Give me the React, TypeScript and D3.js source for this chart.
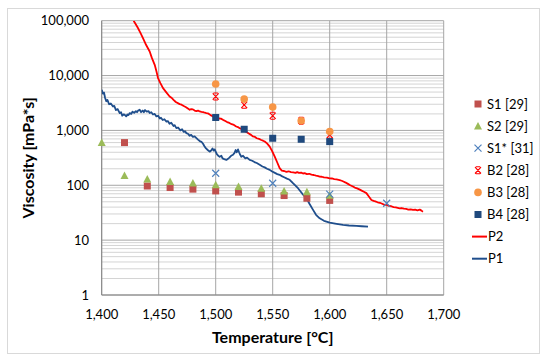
import React from 'react';
import * as d3 from 'd3';

type Pt = [number, number];

// measured points [temperature °C, viscosity mPa*s]
const S1: Pt[] = [[1420, 600], [1440, 97], [1460, 91], [1480, 85], [1500, 79], [1520, 75], [1540, 70], [1560, 65], [1580, 58], [1600, 53]];
const S2: Pt[] = [[1400, 600], [1420, 150], [1440, 130], [1460, 117], [1480, 110], [1500, 102], [1520, 95], [1540, 88], [1560, 79], [1580, 76], [1600, 66]];
const S1star: Pt[] = [[1500, 166], [1550, 109], [1600, 69], [1650, 47]];
const B2: Pt[] = [[1500, 4150], [1525, 2930], [1550, 1850], [1575, 1500], [1600, 830]];
const B3: Pt[] = [[1500, 7000], [1525, 3720], [1550, 2660], [1575, 1500], [1600, 955]];
const B4: Pt[] = [[1500, 1720], [1525, 1050], [1550, 720], [1575, 690], [1600, 625]];

const P2: Pt[] = [
  [1428, 100000], [1430, 85000], [1431.8, 73600], [1434, 60000], [1436.2, 48300], [1439, 36000], [1442.1, 27500],
  [1444, 21000], [1446.5, 15700], [1448, 12000], [1449.4, 9000], [1451.5, 7300], [1453.8, 5900], [1456.5, 5000],
  [1459.6, 4160], [1461.5, 3900], [1463, 3600], [1465, 3300], [1468.4, 3020], [1470, 2950], [1472, 2780],
  [1474, 2650], [1477.2, 2380], [1478.5, 2450], [1480, 2420], [1481.5, 2300], [1483, 2250], [1484.5, 2300],
  [1486, 2215], [1487.5, 2180], [1489, 2150], [1490.5, 2100], [1491.8, 2070], [1493, 2050], [1494, 2000],
  [1495.5, 1900], [1497.6, 1800], [1499, 1820], [1500, 1780], [1501.5, 1700], [1503, 1650], [1504.5, 1640],
  [1506.4, 1560], [1508, 1500], [1510, 1420], [1512, 1370], [1514, 1300], [1516, 1260], [1518, 1180],
  [1519.5, 1150], [1521, 1100], [1523, 1050], [1525, 980], [1527, 940], [1529, 880], [1531, 830],
  [1532.7, 775], [1534.5, 760], [1536, 720], [1538, 700], [1540, 670], [1541.5, 650], [1543, 627],
  [1545, 580], [1547.4, 508], [1549.5, 420], [1551.8, 334], [1554, 260], [1556.1, 205], [1558, 185],
  [1560, 182], [1562, 176], [1564, 180], [1566, 174], [1568, 172], [1570, 168], [1571.5, 174],
  [1573, 168], [1575, 170], [1576.6, 164], [1578, 166], [1580, 160], [1582, 162], [1584, 156],
  [1586, 154], [1588, 150], [1590, 147], [1591.2, 144], [1593, 143], [1595, 139], [1597.5, 138],
  [1600, 134], [1602, 133], [1604, 130], [1606, 128], [1608.8, 124], [1610.5, 121], [1612, 117],
  [1614, 112], [1616, 106], [1618, 100], [1620.4, 95], [1622, 91], [1624, 88], [1626, 84],
  [1628, 80], [1630, 76], [1632.2, 72], [1634.5, 62], [1636.6, 54], [1638.5, 52], [1640, 51],
  [1642, 49], [1644, 48], [1646, 46], [1648.2, 44], [1650, 44], [1652, 42], [1654, 41.5],
  [1656, 40], [1658, 39.5], [1661.4, 38], [1663, 38.5], [1665, 37.5], [1667, 37], [1669, 36],
  [1671, 36.5], [1673.1, 35.6], [1675, 36], [1677, 35], [1679, 36], [1680.5, 34.5], [1681.8, 33],
];
const P1: Pt[] = [
  [1400, 5500], [1401, 4700], [1402, 4900], [1403, 3900], [1404, 3400], [1405, 3600], [1406.5, 3000],
  [1408, 3100], [1409.9, 2730], [1411, 2800], [1412.5, 2350], [1414, 2450], [1415.8, 2070], [1417, 2150],
  [1418, 1850], [1419, 1950], [1420.2, 1930], [1421.5, 1800], [1422.5, 1950], [1423.5, 1900], [1424.6, 2070],
  [1426, 2000], [1427, 2200], [1428.5, 2100], [1430, 2250], [1431, 2150], [1432, 2300], [1433.3, 2380],
  [1434.5, 2150], [1436, 2300], [1437, 2150], [1438, 2350], [1439.5, 2200], [1441, 2250], [1442.1, 2070],
  [1443.5, 2150], [1445, 1950], [1446.5, 2000], [1448, 1800], [1449.5, 1850], [1451, 1650], [1452, 1700],
  [1453.5, 1550], [1455, 1600], [1456.8, 1450], [1458, 1480], [1459.5, 1320], [1461, 1380], [1463, 1200],
  [1464, 1250], [1465.5, 1100], [1467, 1130], [1469, 1000], [1470.5, 1050], [1472, 940], [1473, 970],
  [1474.3, 892], [1476, 860], [1477, 800], [1478.5, 830], [1480, 760], [1481.5, 780], [1483.1, 724],
  [1484.5, 680], [1486, 640], [1487.5, 620], [1488.9, 570], [1490, 520], [1491.5, 470], [1493, 440],
  [1494.7, 410], [1496, 430], [1497.2, 470], [1498.2, 430], [1499.1, 450], [1500, 410], [1501, 370],
  [1502, 350], [1503.5, 330], [1505, 345], [1506, 310], [1507.5, 300], [1509.4, 290], [1510.5, 300],
  [1512, 320], [1513.5, 345], [1515.2, 360], [1516.5, 390], [1517.5, 440], [1518.5, 400], [1519.6, 450],
  [1520.5, 400], [1521.5, 360], [1522.5, 330], [1524, 345], [1526, 310], [1527.5, 320], [1529.8, 290],
  [1532, 280], [1534, 265], [1536, 255], [1538.6, 236], [1541, 220], [1543, 212], [1545, 200],
  [1547.4, 191], [1549.5, 178], [1551.5, 170], [1554, 160], [1556.1, 155], [1558, 147], [1560, 140],
  [1562.5, 132], [1564.9, 126], [1568, 108], [1572.2, 88.5], [1576, 70], [1579.6, 58], [1582.5, 45],
  [1585.4, 35.6], [1588, 29], [1591.2, 25], [1595, 22.5], [1600, 20.9], [1606, 19.8], [1611.7, 18.9],
  [1617, 18.5], [1623.4, 18.2], [1628, 17.9], [1633.6, 17.6],
];

const xTicks = [1400, 1450, 1500, 1550, 1600, 1650, 1700];
const yTicks = [1, 10, 100, 1000, 10000, 100000];

const legendItems = [
  { name: 'S1 [29]', kind: 'square', color: '#C0504D' },
  { name: 'S2 [29]', kind: 'triangle', color: '#9BBB59' },
  { name: 'S1* [31]', kind: 'x', color: '#4F81BD' },
  { name: 'B2 [28]', kind: 'star', color: '#FF0000' },
  { name: 'B3 [28]', kind: 'circle', color: '#F79646' },
  { name: 'B4 [28]', kind: 'square', color: '#1F497D' },
  { name: 'P2', kind: 'line', color: '#FF0000' },
  { name: 'P1', kind: 'line', color: '#1F4E8C' },
];

const FONT = 'Lato, "Open Sans", sans-serif';

const Marker: React.FC<{ kind: string; color: string; cx: number; cy: number }> = ({ kind, color, cx, cy }) => {
  if (kind === 'square') return <rect x={cx - 3.5} y={cy - 3.5} width={7} height={7} fill={color} />;
  if (kind === 'circle') return <circle cx={cx} cy={cy} r={3.8} fill={color} />;
  if (kind === 'triangle') return <path d={`M${cx},${cy - 4}L${cx + 4},${cy + 3.5}L${cx - 4},${cy + 3.5}Z`} fill={color} />;
  if (kind === 'x')
    return <path d={`M${cx - 3.5},${cy - 3.5}L${cx + 3.5},${cy + 3.5}M${cx - 3.5},${cy + 3.5}L${cx + 3.5},${cy - 3.5}`} stroke={color} strokeWidth={1.2} fill="none" />;
  if (kind === 'star')
    return (
      <path
        d={`M${cx - 3},${cy - 3.2}L${cx + 3},${cy + 3.2}M${cx - 3},${cy + 3.2}L${cx + 3},${cy - 3.2}M${cx - 2.2},${cy - 3.5}L${cx + 2.2},${cy - 3.5}M${cx - 2.2},${cy + 3.5}L${cx + 2.2},${cy + 3.5}`}
        stroke={color} strokeWidth={1.1} fill="none" />
    );
  return null;
};

export default function App() {
  const left = 101.7, right = 443.7, top = 20.7, bottom = 295;
  const x = d3.scaleLinear().domain([1400, 1700]).range([left, right]);
  const y = d3.scaleLog().domain([1, 100000]).range([bottom, top]);

  const minor: number[] = [];
  [1, 10, 100, 1000, 10000].forEach(dec => {
    for (let k = 2; k <= 9; k++) minor.push(dec * k);
  });

  const line = d3.line<Pt>().x(d => x(d[0])).y(d => y(d[1]));

  const scatter = [
    { data: S1, kind: 'square', color: '#C0504D' },
    { data: S2, kind: 'triangle', color: '#9BBB59' },
    { data: S1star, kind: 'x', color: '#4F81BD' },
    { data: B2, kind: 'star', color: '#FF0000' },
    { data: B3, kind: 'circle', color: '#F79646' },
    { data: B4, kind: 'square', color: '#1F497D' },
  ];

  return (
    <svg width={550} height={363} style={{ position: 'absolute', left: 0, top: 0, background: '#fff' }} fontFamily={FONT}>
      <rect x={7.5} y={8.5} width={532} height={345} fill="#fff" stroke="#D9D9D9" />
      <defs>
        <clipPath id="plot">
          <rect x={left} y={top} width={right - left} height={bottom - top} />
        </clipPath>
      </defs>
      {minor.map(v => (
        <line key={'m' + v} x1={left} x2={right} y1={y(v)} y2={y(v)} stroke="#D4D4D4" strokeWidth={1} />
      ))}
      {yTicks.map(v => (
        <line key={'y' + v} x1={left} x2={right} y1={y(v)} y2={y(v)} stroke="#A6A6A6" strokeWidth={1} />
      ))}
      {xTicks.map(v => (
        <line key={'x' + v} x1={x(v)} x2={x(v)} y1={top} y2={bottom} stroke="#A6A6A6" strokeWidth={1} />
      ))}
      <line x1={left} x2={left} y1={top} y2={bottom} stroke="#868686" />
      <line x1={left} x2={right} y1={bottom} y2={bottom} stroke="#868686" />

      <g clipPath="url(#plot)">
        <path d={line(P2) || ''} fill="none" stroke="#FF0000" strokeWidth={1.8} strokeLinejoin="round" />
        <path d={line(P1) || ''} fill="none" stroke="#1F4E8C" strokeWidth={1.8} strokeLinejoin="round" />
      </g>
      {scatter.map((s, i) => (
        <g key={i}>
          {s.data.map((d, j) => (
            <Marker key={j} kind={s.kind} color={s.color} cx={x(d[0])} cy={y(d[1])} />
          ))}
        </g>
      ))}

      {yTicks.map(v => (
        <text key={'yl' + v} x={89} y={y(v)} dy="0.35em" textAnchor="end" fontSize={13} fill="#000">
          {d3.format(',')(v)}
        </text>
      ))}
      {xTicks.map(v => (
        <text key={'xl' + v} x={x(v)} y={318.5} textAnchor="middle" fontSize={13} fill="#000">
          {d3.format(',')(v)}
        </text>
      ))}
      <text x={(left + right) / 2} y={342.5} textAnchor="middle" fontSize={16} fontWeight="bold">Temperature [°C]</text>
      <text transform={`translate(34,${(top + bottom) / 2}) rotate(-90)`} textAnchor="middle" fontSize={16} fontWeight="bold">Viscosity [mPa*s]</text>

      {legendItems.map((it, i) => {
        const ly = 104 + i * 22.1;
        return (
          <g key={it.name}>
            {it.kind === 'line'
              ? <line x1={472} x2={487} y1={ly} y2={ly} stroke={it.color} strokeWidth={2} />
              : <Marker kind={it.kind} color={it.color} cx={478} cy={ly} />}
            <text x={it.kind === 'line' ? 488 : 487} y={ly} dy="0.35em" fontSize={13}>{it.name}</text>
          </g>
        );
      })}
    </svg>
  );
}
